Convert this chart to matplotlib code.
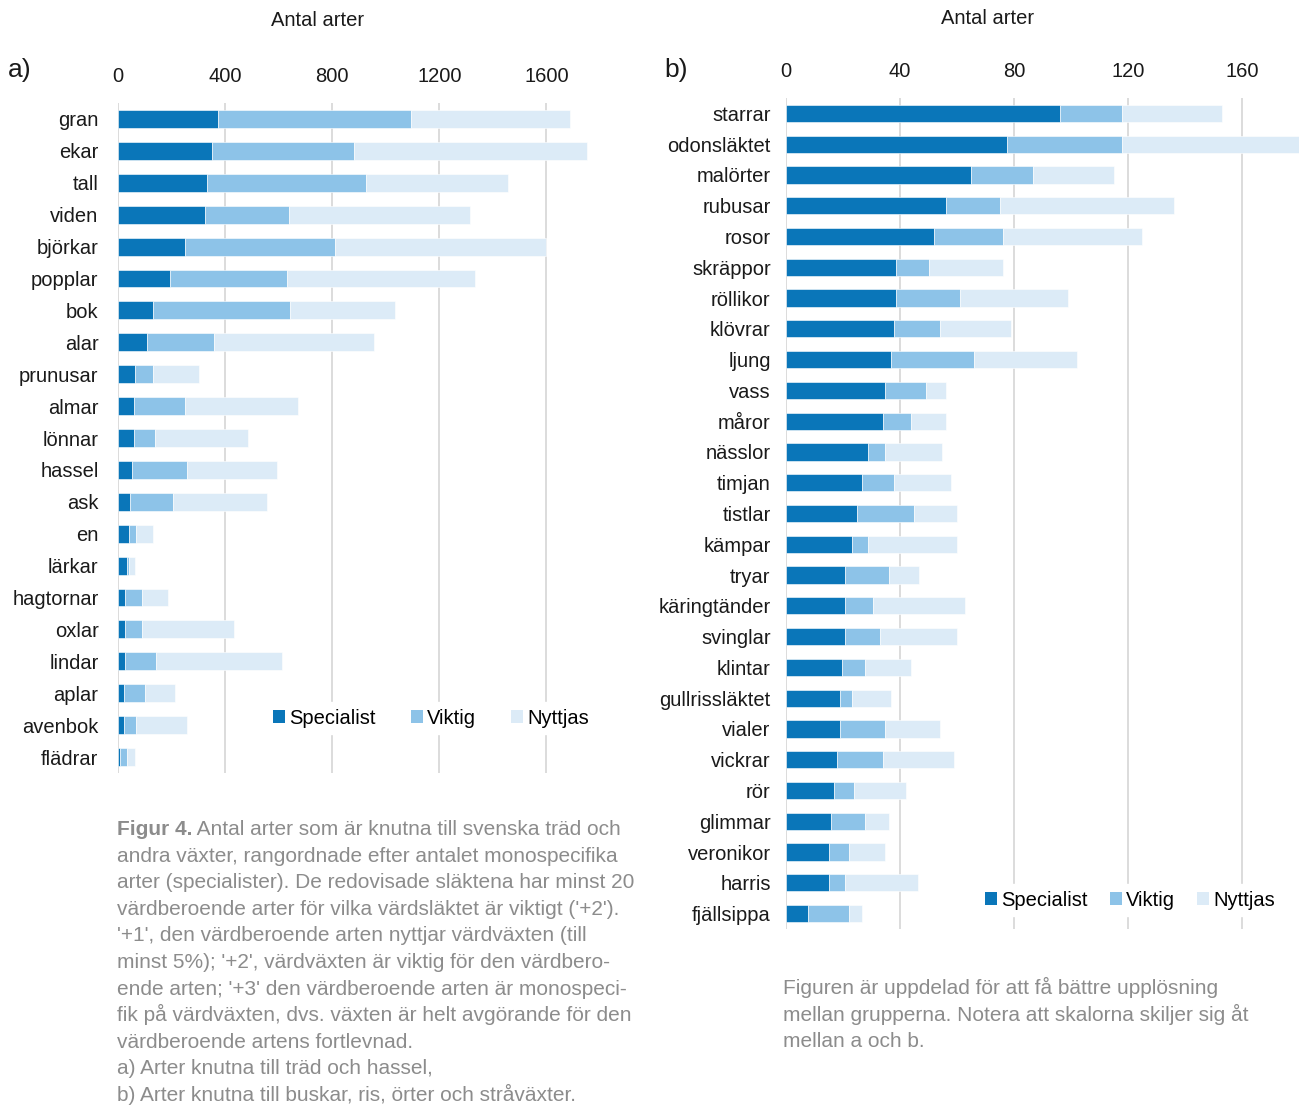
import numpy as np
import matplotlib
matplotlib.use("Agg")
import matplotlib.pyplot as plt
from matplotlib.patches import Patch

plt.rcParams['font.family'] = ['Liberation Sans', 'DejaVu Sans']

# -----------------------------
# data: cumulative ends
# -----------------------------
cat_a = ["gran", "ekar", "tall", "viden", "björkar", "popplar", "bok", "alar",
         "prunusar", "almar", "lönnar", "hassel", "ask", "en", "lärkar",
         "hagtornar", "oxlar", "lindar", "aplar", "avenbok", "flädrar"]
spec_a = [375, 350, 332, 325, 252, 196, 130, 108, 62, 58, 58, 52, 44, 40, 34,
          27, 27, 27, 22, 22, 7]
vikt_a = [1095, 880, 925, 638, 809, 630, 644, 357, 130, 252, 137, 258, 205, 69, 40,
          89, 89, 143, 100, 69, 32]
nytt_a = [1689, 1750, 1455, 1315, 1597, 1333, 1033, 955, 301, 673, 484, 595, 558, 130, 65,
          186, 435, 614, 211, 258, 65]

cat_b = ["starrar", "odonsläktet", "malörter", "rubusar", "rosor", "skräppor",
         "röllikor", "klövrar", "ljung", "vass", "måror", "nässlor", "timjan",
         "tistlar", "kämpar", "tryar", "käringtänder", "svinglar", "klintar",
         "gullrissläktet", "vialer", "vickrar", "rör", "glimmar", "veronikor",
         "harris", "fjällsippa"]
spec_b = [96, 77.6, 65, 56, 52, 38.6, 38.6, 38, 37, 34.7, 34, 28.8, 26.7,
          25, 23.2, 20.7, 20.7, 20.7, 19.7, 19.1, 19.1, 18, 17, 15.7, 15.1, 15.1, 7.6]
vikt_b = [118, 118, 86.7, 75, 76, 50.2, 61, 54, 66, 49, 44, 34.7, 38,
          45, 28.8, 36, 30.6, 33, 27.8, 23.2, 34.7, 34, 23.8, 27.8, 22, 20.7, 22]
nytt_b = [153, 180, 115, 136, 125, 76, 99, 79, 102, 56, 56, 54.7, 58,
          60, 60, 46.7, 62.7, 60, 44, 37, 54, 58.8, 42, 36, 34.8, 46.3, 26.7]

ticks_a = [0, 400, 800, 1200, 1600]
ticks_b = [0, 40, 80, 120, 160]
series = ["Specialist", "Viktig", "Nyttjas"]
colors = ["#0a76b9", "#8dc3e8", "#dcebf7"]

W, H = 1306, 1106
fig = plt.figure(figsize=(W / 100, H / 100), dpi=100)


def stacked(ax, cats, spec, vikt, nytt, xmax, ticks, lab_pad):
    y = np.arange(len(cats))
    ends = [np.array(spec), np.array(vikt), np.array(nytt)]
    starts = [np.zeros(len(cats)), ends[0], ends[1]]
    for s, e, c in zip(starts, ends, colors):
        ax.barh(y, e - s, left=s, height=0.56, color=c, edgecolor="white",
                linewidth=0.4, zorder=2)
    ax.set_xlim(0, xmax)
    ax.set_ylim(len(cats) - 0.5, -0.5)
    ax.set_yticks(y)
    ax.set_yticklabels(cats, fontsize=14.5, color="#1a1a1a")
    ax.set_xticks(ticks)
    ax.set_xticklabels([str(t) for t in ticks], fontsize=14.5, color="#1a1a1a")
    ax.xaxis.tick_top()
    ax.tick_params(axis="x", length=0, pad=12.5)
    ax.tick_params(axis="y", length=0, pad=lab_pad)
    ax.grid(axis="x", color="#d9d9d9", linewidth=1.3, zorder=0)
    ax.set_axisbelow(True)
    for sp in ax.spines.values():
        sp.set_visible(False)


# panel a
ax1 = fig.add_axes([118 / W, 1 - 773 / H, 482 / W, 670 / H])
stacked(ax1, cat_a, spec_a, vikt_a, nytt_a, 1800, ticks_a, 14)

# panel b
ax2 = fig.add_axes([786 / W, 1 - 929 / H, 513 / W, 831 / H])
stacked(ax2, cat_b, spec_b, vikt_b, nytt_b, 180, ticks_b, 11)

handles = [Patch(facecolor=c, edgecolor="none") for c in colors]
for ax, anchor, csp in [(ax1, (257 / W, 1 - 718 / H), 1.75),
                        (ax2, (969 / W, 1 - 900 / H), 1.1)]:
    leg = ax.legend(handles, series, ncol=3, loc="center left",
                    bbox_to_anchor=anchor, bbox_transform=fig.transFigure,
                    fontsize=14.5, frameon=True, framealpha=1, edgecolor="white",
                    handlelength=0.6, handleheight=0.6, handletextpad=0.2,
                    columnspacing=csp, borderpad=0.3)
    leg.set_zorder(5)

# titles / panel letters
fig.text(318 / W, 1 - 20 / H, "Antal arter", fontsize=14.5, color="#1a1a1a",
         ha="center", va="center")
fig.text(988 / W, 1 - 19 / H, "Antal arter", fontsize=14.5, color="#1a1a1a",
         ha="center", va="center")
fig.text(8 / W, 1 - 70 / H, "a)", fontsize=19, color="#1a1a1a", va="center")
fig.text(664 / W, 1 - 70 / H, "b)", fontsize=19, color="#1a1a1a", va="center")

# captions
grey = "#8c8c8c"
cap_fs = 15
cap_a = [
    "Antal arter som är knutna till svenska träd och",
    "andra växter, rangordnade efter antalet monospecifika",
    "arter (specialister). De redovisade släktena har minst 20",
    "värdberoende arter för vilka värdsläktet är viktigt ('+2').",
    "'+1', den värdberoende arten nyttjar värdväxten (till",
    "minst 5%); '+2', värdväxten är viktig för den värdbero-",
    "ende arten; '+3' den värdberoende arten är monospeci-",
    "fik på värdväxten, dvs. växten är helt avgörande för den",
    "värdberoende artens fortlevnad.",
    "a) Arter knutna till träd och hassel,",
    "b) Arter knutna till buskar, ris, örter och stråväxter.",
]
line_h = 26.6
base_a = 835
t0 = fig.text(117 / W, 1 - base_a / H, "Figur 4.", fontsize=cap_fs, color=grey,
              fontweight="bold", va="baseline")
ax1.annotate(" " + cap_a[0], xy=(1, 0), xycoords=t0, va="bottom",
             fontsize=cap_fs, color=grey, annotation_clip=False)
for i, line in enumerate(cap_a):
    if i == 0:
        continue
    fig.text(117 / W, 1 - (base_a + i * line_h) / H, line, fontsize=cap_fs,
             color=grey, va="baseline")

cap_b = [
    "Figuren är uppdelad för att få bättre upplösning",
    "mellan grupperna. Notera att skalorna skiljer sig åt",
    "mellan a och b.",
]
for i, line in enumerate(cap_b):
    fig.text(783 / W, 1 - (994 + i * line_h) / H, line, fontsize=cap_fs,
             color=grey, va="baseline")

fig.savefig("out.png", dpi=100)
